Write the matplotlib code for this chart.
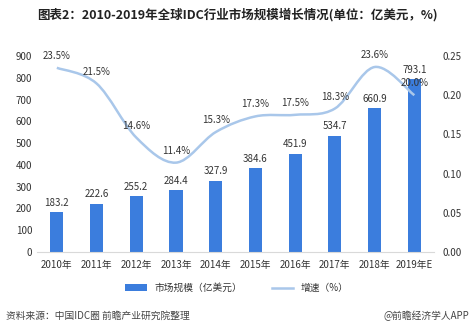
import matplotlib
matplotlib.use("Agg")
import matplotlib.pyplot as plt
from matplotlib.path import Path
from matplotlib.patches import PathPatch
from matplotlib.lines import Line2D
from matplotlib.patches import Patch
import numpy as np

plt.rcParams['font.family'] = ['Noto Sans CJK SC', 'DejaVu Sans']

categories = ["2010年", "2011年", "2012年", "2013年", "2014年", "2015年", "2016年", "2017年", "2018年", "2019年E"]
market_size = [183.2, 222.6, 255.2, 284.4, 327.9, 384.6, 451.9, 534.7, 660.9, 793.1]
growth = [0.235, 0.215, 0.146, 0.114, 0.153, 0.173, 0.175, 0.183, 0.236, 0.200]
left_ticks = [0, 100, 200, 300, 400, 500, 600, 700, 800, 900]
right_ticks = [0.00, 0.05, 0.10, 0.15, 0.20, 0.25]

bar_color = "#3b7ddd"
line_color = "#a9c7ea"
text_color = "#333333"

fig = plt.figure(figsize=(4.74, 3.31), dpi=100)
ax = fig.add_axes([0.078, 0.2387, 0.838, 0.592])
ax2 = ax.twinx()

x = np.arange(len(categories))
ax.bar(x, market_size, width=0.33, color=bar_color, zorder=2)
for xi, v in zip(x, market_size):
    ax.annotate(f"{v:.1f}", (xi, v), xytext=(0, 3), textcoords="offset points",
                ha="center", va="bottom", fontsize=7, color=text_color)

ax.set_xlim(-0.5, len(categories) - 0.5)
ax.set_ylim(0, 900)
ax.set_yticks(left_ticks)
ax.set_xticks(x)
ax.set_xticklabels(categories)
ax.tick_params(axis='both', length=0, labelsize=7, colors=text_color)
ax.tick_params(axis='x', pad=6)
for s in ["top", "right", "left"]:
    ax.spines[s].set_visible(False)
ax.spines["bottom"].set_color("#d9d9d9")

# smooth line via cubic Bezier segments (Catmull-Rom style control points)
ys = np.array(growth)
verts = [(x[0], ys[0])]
codes = [Path.MOVETO]
n = len(x)
for i in range(n - 1):
    p0 = (x[i - 1], ys[i - 1]) if i > 0 else (x[i], ys[i])
    p1 = (x[i], ys[i])
    p2 = (x[i + 1], ys[i + 1])
    p3 = (x[i + 2], ys[i + 2]) if i + 2 < n else (x[i + 1], ys[i + 1])
    t = 1 / 6
    c1 = (p1[0] + (p2[0] - p0[0]) * t, p1[1] + (p2[1] - p0[1]) * t)
    c2 = (p2[0] - (p3[0] - p1[0]) * t, p2[1] - (p3[1] - p1[1]) * t)
    verts += [c1, c2, p2]
    codes += [Path.CURVE4] * 3
ax2.add_patch(PathPatch(Path(verts, codes), fill=False, edgecolor=line_color, lw=1.8, zorder=3))
for xi, v in zip(x, growth):
    ax2.annotate(f"{v*100:.1f}%", (xi, v), xytext=(0, 5), textcoords="offset points",
                 ha="center", va="bottom", fontsize=7, color=text_color)

ax2.set_ylim(0, 0.25)
ax2.set_yticks(right_ticks)
ax2.set_yticklabels([f"{t:.2f}" for t in right_ticks])
ax2.tick_params(axis='y', length=0, labelsize=7, colors=text_color, pad=6)
for s in ["top", "right", "left", "bottom"]:
    ax2.spines[s].set_visible(False)

fig.text(0.5, 0.955, "图表2：2010-2019年全球IDC行业市场规模增长情况(单位：亿美元，%)",
         ha="center", va="center", fontsize=9, fontweight="bold", color="#222222")

handles = [Patch(facecolor=bar_color, edgecolor="none"),
           Line2D([0], [0], color=line_color, lw=1.8)]
fig.legend(handles, ["市场规模（亿美元）", "增速（%）"], loc="center", bbox_to_anchor=(0.5, 0.13),
           ncol=2, frameon=False, fontsize=7, handlelength=2.2, handleheight=0.6,
           columnspacing=3, labelcolor=text_color)

fig.text(0.012, 0.045, "资料来源：中国IDC圈 前瞻产业研究院整理", ha="left", va="center",
         fontsize=7, color="#444444")
fig.text(0.99, 0.045, "@前瞻经济学人APP", ha="right", va="center", fontsize=7, color="#444444")

fig.savefig("out.png", dpi=100)
